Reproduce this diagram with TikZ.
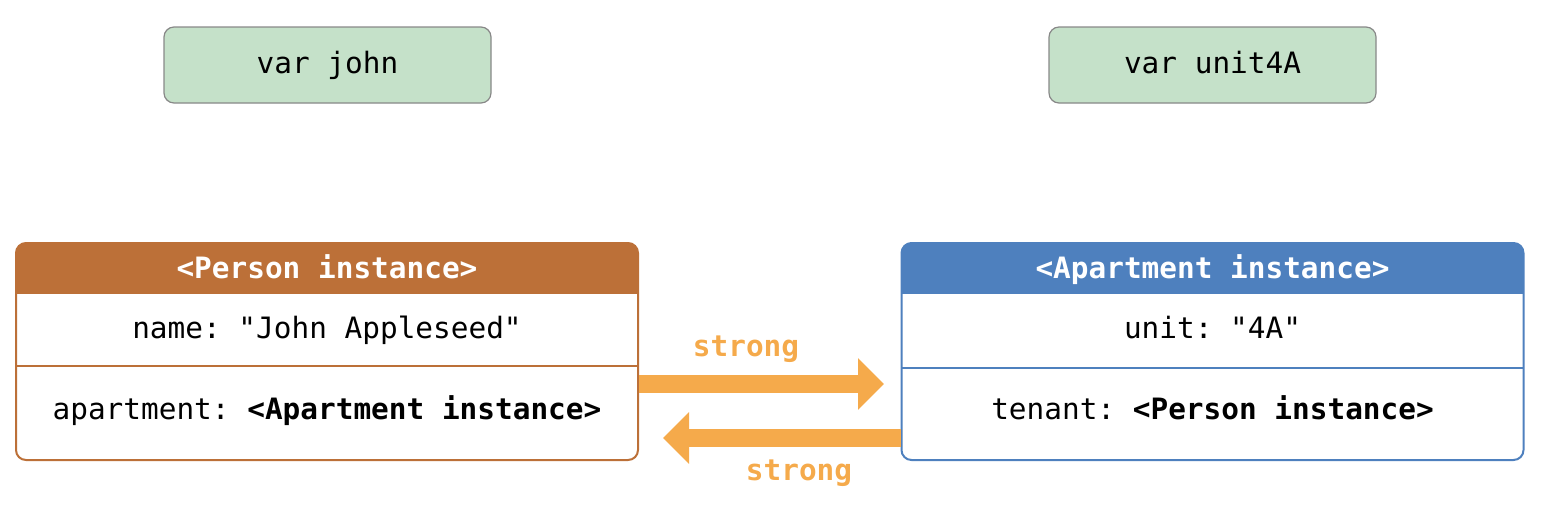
\documentclass[tikz,border=0pt]{standalone}
\usepackage{fontspec}
\setmonofont{DejaVu Sans Mono}
\usetikzlibrary{arrows.meta}
\definecolor{varfill}{RGB}{197,225,201}
\definecolor{vardraw}{RGB}{136,136,136}
\definecolor{personc}{RGB}{188,112,56}
\definecolor{aptc}{RGB}{78,128,190}
\definecolor{strongc}{RGB}{245,170,75}
\tikzset{
  monotext/.style={font=\ttfamily\fontsize{14.7}{17}\selectfont, text height=11pt, text depth=3pt},
  varbox/.style={monotext, draw=vardraw, line width=0.6pt, fill=varfill, rounded corners=5pt,
    minimum width=163.5pt, minimum height=38pt},
  objbox/.style={draw=#1, line width=1pt, fill=white, rounded corners=5pt,
    minimum width=311pt, minimum height=108.5pt,
    path picture={\fill[#1, sharp corners] (path picture bounding box.north west) rectangle
      ([yshift=-25.5pt]path picture bounding box.north east);}},
  headtext/.style={monotext, text=white, font=\ttfamily\bfseries\fontsize{14.7}{17}\selectfont},
  field/.style={monotext},
  strongarrow/.style={strongc, line width=9pt, -{Triangle[length=13pt, width=25pt]}},
  strongtext/.style={monotext, text=strongc, font=\ttfamily\bfseries\fontsize{14.7}{17}\selectfont}
}
\begin{document}
\begin{tikzpicture}[x=0.5pt, y=-0.5pt]
		\useasboundingbox (0,0) rectangle (1556,510);
		
		% 1. Variables
		\node[varbox] (john) at (327.5,65) {var john};
		\node[varbox] (unit) at (1212.5,65) {var unit4A};
		
		% 2. Person instance
		\node[objbox=personc] (person) at (327,351.5) {};
		\node[headtext] (phead) at (327,270) {<Person instance>};
		\draw[personc, line width=1pt] (16,366) -- (638,366);
		\node[field] (pname) at (327,330) {name: "John Appleseed"};
		\node[field] (papt) at (327,411) {apartment: \textbf{<Apartment instance>}};
		
		% 3. Apartment instance
		\node[objbox=aptc] (apt) at (1212.5,351.5) {};
		\node[headtext] (ahead) at (1212.5,270) {<Apartment instance>};
		\draw[aptc, line width=1pt] (901,368) -- (1524,368);
		\node[field] (aunit) at (1212.5,330) {unit: "4A"};
		\node[field] (aten) at (1212.5,411) {tenant: \textbf{<Person instance>}};
		
		% 4. Strong references
		\coordinate (p2a) at (884,384);
		\coordinate (a2p) at (663,438);
		\draw[strongarrow] (person.east |- p2a) -- (p2a);
		\draw[strongarrow] (apt.west |- a2p) -- (a2p);
		\node[strongtext] (s1) at (746,348) {strong};
		\node[strongtext] (s2) at (799,472) {strong};
		
	\end{tikzpicture}
\end{document}
